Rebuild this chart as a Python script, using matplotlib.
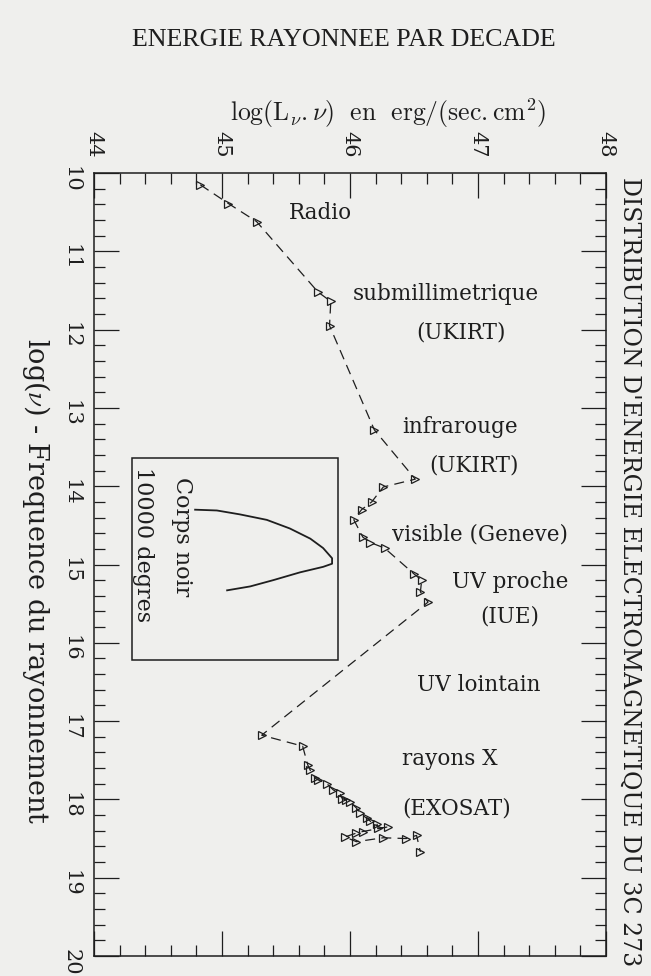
import numpy as np
import matplotlib
matplotlib.use('Agg')
import matplotlib.pyplot as plt
from matplotlib.patches import Rectangle
from matplotlib.ticker import MultipleLocator

# spectral energy distribution of 3C 273
# log(L_nu.nu) on the horizontal axis, log(nu) on the vertical axis
log_lnu = [44.83, 45.05, 45.27, 45.75, 45.85, 45.84, 46.19,
           46.51, 46.26, 46.17, 46.09, 46.03, 46.10, 46.16, 46.27,
           46.50, 46.56, 46.55, 46.61,
           45.31, 45.63,
           45.67, 45.69, 45.73, 45.75, 45.82, 45.87, 45.92, 45.94, 45.97,
           46.00, 46.05, 46.08, 46.13, 46.16, 46.21, 46.22, 46.30,
           46.10, 46.05, 45.96, 46.05, 46.26, 46.44, 46.52, 46.55]
log_nu = [10.15, 10.39, 10.62, 11.52, 11.64, 11.95, 13.28,
          13.91, 14.01, 14.20, 14.30, 14.43, 14.65, 14.72, 14.79,
          15.12, 15.20, 15.35, 15.48,
          17.18, 17.32,
          17.56, 17.63, 17.73, 17.75, 17.80, 17.88, 17.92, 17.99, 18.01,
          18.03, 18.11, 18.18, 18.24, 18.28, 18.31, 18.37, 18.35,
          18.41, 18.43, 18.48, 18.54, 18.49, 18.50, 18.46, 18.67]

# black body sketch in the inset box
bb_lnu = [44.79, 44.96, 45.14, 45.35, 45.53, 45.69, 45.79, 45.86, 45.86,
          45.79, 45.61, 45.40, 45.22, 45.04]
bb_nu = [14.30, 14.31, 14.36, 14.43, 14.54, 14.67, 14.79, 14.92, 14.99,
         15.03, 15.10, 15.20, 15.28, 15.33]
inset_box = [44.30, 13.64, 45.91, 16.22]

# band labels: text, x, y
bands = ['Radio', 'submillimetrique', '(UKIRT)', 'infrarouge', '(UKIRT)',
         'visible (Geneve)', 'UV proche', '(IUE)', 'UV lointain',
         'rayons X', '(EXOSAT)']
band_x = [45.52, 46.02, 46.52, 46.41, 46.62, 46.33, 46.80, 47.02, 46.52,
          46.41, 46.41]
band_y = [10.51, 11.55, 12.04, 13.24, 13.73, 14.62, 15.22, 15.67, 16.54,
          17.48, 18.11]

ink = '#1e1e1e'
paper = '#efefed'

plt.rcParams['mathtext.fontset'] = 'cm'
fig = plt.figure(figsize=(6.51, 9.76), dpi=100, facecolor=paper)
ax = fig.add_axes([94/651, 1 - 956/976, 512/651, 783/976])
ax.set_facecolor(paper)

ax.plot(log_lnu, log_nu, color=ink, lw=0.9, ls=(0, (8, 5)),
        marker='>', ms=5.5, mfc='none', mec=ink, mew=0.9)

ax.add_patch(Rectangle((inset_box[0], inset_box[1]),
                       inset_box[2] - inset_box[0], inset_box[3] - inset_box[1],
                       fill=False, ec=ink, lw=1.1))
ax.plot(bb_lnu, bb_nu, color=ink, lw=1.3)
ax.text(44.69, 13.88, 'Corps noir', rotation=-90, ha='center', va='top',
        family='DejaVu Serif', fontsize=16, color=ink)
ax.text(44.38, 13.75, '10000 degres', rotation=-90, ha='center', va='top',
        family='DejaVu Serif', fontsize=16, color=ink)

for t, x, y in zip(bands, band_x, band_y):
    ax.text(x, y, t, ha='left', va='center', family='DejaVu Serif',
            fontsize=15.5, color=ink)

ax.set_xlim(44, 48)
ax.set_ylim(20, 10)
ax.xaxis.set_major_locator(MultipleLocator(1))
ax.xaxis.set_minor_locator(MultipleLocator(0.2))
ax.yaxis.set_major_locator(MultipleLocator(1))
ax.yaxis.set_minor_locator(MultipleLocator(0.2))
ax.tick_params(which='both', direction='in', top=True, bottom=True,
               left=True, right=True, color=ink)
ax.tick_params(which='major', length=18, width=0.9)
ax.tick_params(which='minor', length=8, width=0.9)
ax.tick_params(axis='x', labeltop=True, labelbottom=False, pad=11,
               labelrotation=-90, labelsize=15, labelcolor=ink)
ax.tick_params(axis='y', labelleft=True, pad=10, labelrotation=-90,
               labelsize=15, labelcolor=ink)
for lab in ax.get_xticklabels() + ax.get_yticklabels():
    lab.set_family('DejaVu Serif')
for s in ax.spines.values():
    s.set_color(ink)
    s.set_linewidth(1.1)

fig.text(344/651, 1 - 40/976, 'ENERGIE RAYONNEE PAR DECADE', ha='center',
         va='center', family='Liberation Serif', fontsize=18.7, color=ink)
fig.text(388/651, 1 - 113/976,
         r'$\mathrm{log(L_{\nu}.\nu)\ \ en\ \ erg/(sec.cm^2)}$',
         ha='center', va='center', fontsize=18.5, color=ink)
fig.text(36/651, 1 - 581/976, r'log($\nu$) - Frequence du rayonnement',
         rotation=-90, ha='center', va='center', family='DejaVu Serif',
         fontsize=19.5, color=ink)
fig.text(630/651, 1 - 572/976,
         "DISTRIBUTION D'ENERGIE ELECTROMAGNETIQUE DU 3C 273",
         rotation=-90, ha='center', va='center', family='DejaVu Serif',
         fontsize=17, color=ink)

fig.savefig('out.png', dpi=100, facecolor=paper)
